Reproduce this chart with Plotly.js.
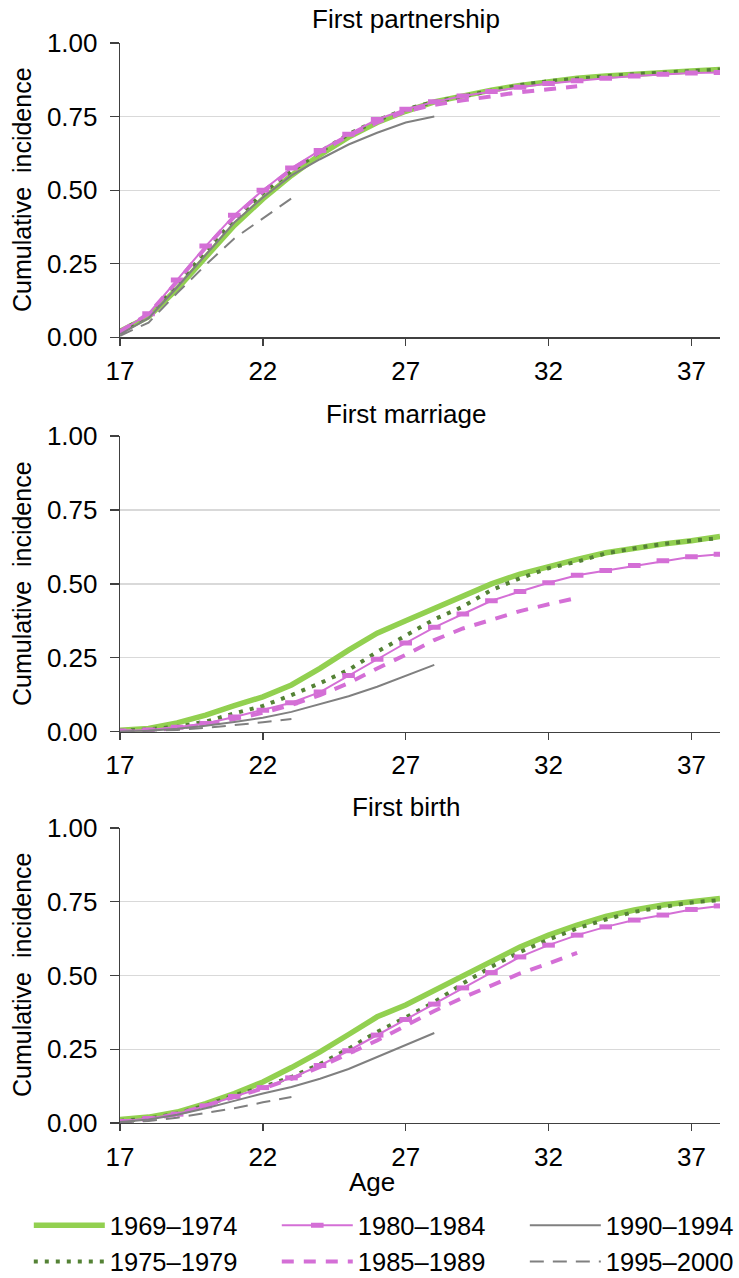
<!DOCTYPE html>
<html>
<head>
<meta charset="utf-8">
<script src="https://cdn.plot.ly/plotly-3.0.1.min.js"></script>
<style>html,body{margin:0;padding:0;background:#fff;}#chart{width:739px;height:1278px;}</style>
</head>
<body>
<div id="chart"></div>
<script>
// ---------- data ----------
const ages = [17,18,19,20,21,22,23,24,25,26,27,28,29,30,31,32,33,34,35,36,37,38];
const cohorts = ['1969\u20131974','1975\u20131979','1980\u20131984','1985\u20131989','1990\u20131994','1995\u20132000'];
const panelTitles = ['First partnership','First marriage','First birth'];
const xTickVals = [17,22,27,32,37];
const yTickVals = [0,0.25,0.5,0.75,1];
const yTickText = ['0.00','0.25','0.50','0.75','1.00'];

// First partnership
const part1969 = [0.02,0.07,0.165,0.27,0.38,0.47,0.55,0.62,0.68,0.73,0.768,0.80,0.822,0.84,0.856,0.87,0.88,0.888,0.895,0.90,0.905,0.91];
const part1975 = [0.02,0.075,0.18,0.29,0.40,0.49,0.565,0.63,0.69,0.737,0.775,0.80,0.82,0.84,0.857,0.87,0.88,0.887,0.894,0.90,0.905,0.91];
const part1980 = [0.02,0.08,0.195,0.31,0.415,0.50,0.575,0.635,0.69,0.74,0.775,0.80,0.82,0.835,0.85,0.862,0.872,0.88,0.888,0.894,0.898,0.90];
const part1985 = [0.02,0.08,0.19,0.305,0.41,0.495,0.57,0.63,0.685,0.73,0.768,0.79,0.805,0.82,0.833,0.843,0.853];
const part1990 = [0.01,0.065,0.17,0.28,0.39,0.475,0.55,0.605,0.655,0.695,0.73,0.75];
const part1995 = [0.005,0.05,0.15,0.246,0.336,0.404,0.472];

// First marriage
const marr1969 = [0.005,0.011,0.03,0.056,0.088,0.118,0.158,0.214,0.276,0.333,0.375,0.417,0.457,0.50,0.533,0.56,0.583,0.605,0.622,0.635,0.646,0.66];
const marr1975 = [0.003,0.008,0.017,0.034,0.062,0.087,0.124,0.164,0.209,0.27,0.325,0.38,0.423,0.479,0.519,0.553,0.575,0.603,0.62,0.635,0.646,0.655];
const marr1980 = [0.002,0.006,0.015,0.028,0.05,0.073,0.098,0.134,0.19,0.245,0.30,0.353,0.398,0.443,0.474,0.504,0.529,0.545,0.562,0.578,0.592,0.60];
const marr1985 = [0.0,0.004,0.012,0.025,0.043,0.064,0.09,0.124,0.164,0.214,0.26,0.31,0.349,0.38,0.408,0.431,0.453];
const marr1990 = [0.0,0.003,0.01,0.02,0.033,0.047,0.067,0.094,0.12,0.152,0.19,0.226];
const marr1995 = [0.0,0.002,0.006,0.013,0.022,0.032,0.043];

// First birth
const birth1969 = [0.012,0.02,0.037,0.066,0.10,0.139,0.188,0.241,0.30,0.36,0.40,0.45,0.50,0.552,0.597,0.637,0.671,0.70,0.722,0.739,0.752,0.761];
const birth1975 = [0.007,0.015,0.032,0.06,0.094,0.122,0.156,0.20,0.252,0.309,0.358,0.41,0.473,0.53,0.58,0.622,0.66,0.69,0.716,0.733,0.748,0.756];
const birth1980 = [0.005,0.015,0.03,0.058,0.09,0.12,0.153,0.195,0.245,0.298,0.351,0.403,0.458,0.51,0.563,0.603,0.637,0.665,0.688,0.705,0.724,0.736];
const birth1985 = [0.004,0.013,0.03,0.058,0.088,0.117,0.15,0.19,0.235,0.28,0.33,0.38,0.425,0.467,0.507,0.541,0.577];
const birth1990 = [0.003,0.012,0.028,0.05,0.075,0.10,0.122,0.15,0.183,0.224,0.264,0.305];
const birth1995 = [0.002,0.007,0.018,0.033,0.05,0.07,0.088];

const panels = [
  [part1969, part1975, part1980, part1985, part1990, part1995],
  [marr1969, marr1975, marr1980, marr1985, marr1990, marr1995],
  [birth1969, birth1975, birth1980, birth1985, birth1990, birth1995]
];

// ---------- styles ----------
const FONT = 'Liberation Sans, Arial, sans-serif';
const FS = 26;
const GREEN = '#92D050', DKGREEN = '#548235', MAG = '#D46FD6', GRAY = '#808080';
const styles = [
  {line:{color:GREEN, width:5.5}, mode:'lines', legend:'legend'},
  {line:{color:DKGREEN, width:4, dash:'4px,7px'}, mode:'lines', legend:'legend'},
  {line:{color:MAG, width:2}, mode:'lines+markers', marker:{symbol:'line-ew', size:9, color:MAG, line:{color:MAG, width:5}}, legend:'legend2'},
  {line:{color:MAG, width:4, dash:'12px,10px'}, mode:'lines', legend:'legend2'},
  {line:{color:GRAY, width:2}, mode:'lines', legend:'legend3'},
  {line:{color:GRAY, width:2, dash:'14px,9px'}, mode:'lines', legend:'legend3'}
];

const traces = [];
panels.forEach((series, p) => {
  const sfx = p === 0 ? '' : String(p + 1);
  series.forEach((vals, i) => {
    const st = styles[i];
    const t = {
      type:'scatter',
      x: ages.slice(0, vals.length),
      y: vals,
      name: cohorts[i],
      mode: st.mode,
      line: st.line,
      xaxis: 'x' + sfx,
      yaxis: 'y' + sfx,
      showlegend: p === 0,
      legend: st.legend,
      hoverinfo: 'skip'
    };
    if (st.marker) t.marker = st.marker;
    traces.push(t);
  });
});

// ---------- layout ----------
const domains = [[0.7275, 1.0], [0.3623, 0.6361], [0, 0.2731]];
function legendBox(x) {
  return {orientation:'v', x:x, xanchor:'left', y:-0.1118, yanchor:'middle',
          itemwidth:71, tracegroupgap:0, font:{family:FONT, size:25.5, color:'#000'},
          bgcolor:'rgba(0,0,0,0)', borderwidth:0};
}
const layout = {
  width: 739, height: 1278,
  margin: {l:120, r:19, t:43, b:155, autoexpand:false},
  paper_bgcolor:'#fff', plot_bgcolor:'#fff',
  font: {family: FONT, size: FS, color: '#000'},
  showlegend: true,
  annotations: [],
  legend: legendBox(-0.152),
  legend2: legendBox(0.2613),
  legend3: legendBox(0.6747)
};

const titleY = [1.0222, 0.6565, 0.2926];
const ytitleY = [0.8639, 0.4991, 0.137];
domains.forEach((d, p) => {
  const sfx = p === 0 ? '' : String(p + 1);
  layout['xaxis' + sfx] = {
    domain:[0,1], anchor:'y' + sfx, range:[17,38],
    tickmode:'array', tickvals:xTickVals, ticks:'outside', ticklen:7, tickwidth:1.3, tickcolor:'#404040',
    showline:true, linecolor:'#404040', linewidth:1.3, showgrid:false, zeroline:false,
    tickfont:{family:FONT, size:FS, color:'#000'}, ticklabelstandoff:3, fixedrange:true
  };
  layout['yaxis' + sfx] = {
    domain:d, anchor:'x' + sfx, range:[0,1],
    tickmode:'array', tickvals:yTickVals, ticktext:yTickText, ticks:'outside', ticklen:9, tickwidth:1.3, tickcolor:'#404040',
    showline:true, linecolor:'#404040', linewidth:1.3, showgrid:true, gridcolor:'#D9D9D9', gridwidth:1.3, zeroline:false,
    tickfont:{family:FONT, size:FS, color:'#000'}, ticklabelstandoff:7, fixedrange:true
  };
  layout.annotations.push({
    text: panelTitles[p], xref:'paper', yref:'paper', x:0.4767, y:titleY[p],
    xanchor:'center', yanchor:'middle', showarrow:false, font:{family:FONT, size:FS, color:'#000'}
  });
  layout.annotations.push({
    text: 'Cumulative\u00A0 incidence', xref:'paper', yref:'paper', x:-0.1633, y:ytitleY[p],
    xanchor:'center', yanchor:'middle', textangle:-90, showarrow:false, font:{family:FONT, size:25, color:'#000'}
  });
});
layout.annotations.push({
  text:'Age', xref:'paper', yref:'paper', x:0.4208, y:-0.0546,
  xanchor:'center', yanchor:'middle', showarrow:false, font:{family:FONT, size:FS, color:'#000'}
});

Plotly.newPlot('chart', traces, layout, {displayModeBar:false, staticPlot:true});
</script>
</body>
</html>
